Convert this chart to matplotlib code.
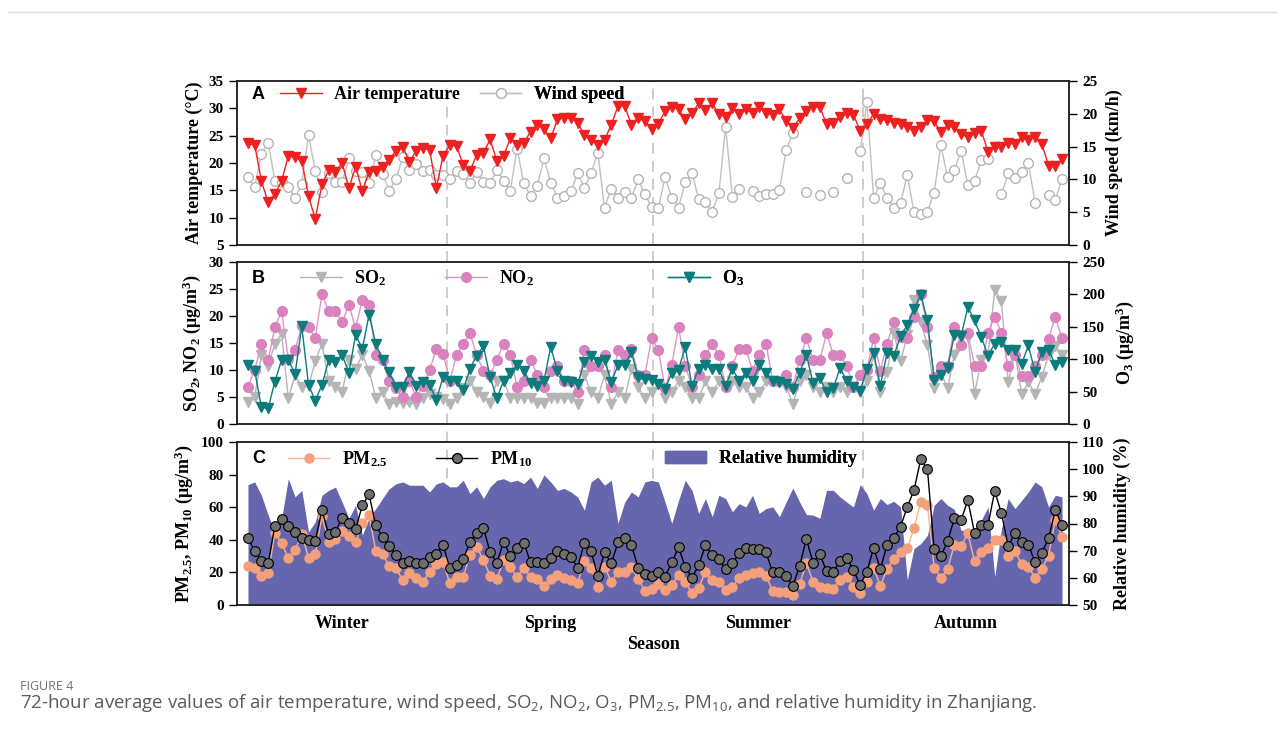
import numpy as np
import matplotlib
matplotlib.use("Agg")
import matplotlib.pyplot as plt
from matplotlib.lines import Line2D
from matplotlib.patches import Patch
import matplotlib.transforms as mtransforms

# Шрифты: жирный Times-подобный
plt.rcParams['font.family'] = ['Liberation Serif', 'DejaVu Serif']
plt.rcParams['font.weight'] = 'bold'
plt.rcParams['axes.labelweight'] = 'bold'
plt.rcParams['mathtext.fontset'] = 'custom'
plt.rcParams['mathtext.rm'] = 'Liberation Serif:bold'
plt.rcParams['mathtext.it'] = 'Liberation Serif:italic:bold'
plt.rcParams['mathtext.bf'] = 'Liberation Serif:bold'
plt.rcParams['mathtext.sf'] = 'Open Sans:weight=normal'

nan = np.nan

# Данные: 122 периода по 72 часа
temp = [23.6, 23.3, 16.7, 12.8, 14.3, 16.7, 21.3, 21.1, 20.4, 13.9, 9.8, 16.1, 18.7, 18.4, 20.0,
        15.4, 19.3, 14.9, 18.4, 18.5, 19.3, 20.6, 22.2, 23.0, 20.2, 22.2, 22.8, 22.4, 15.5, 21.3,
        23.3, 23.1, 19.6, 18.5, 21.5, 21.9, 24.3, 20.4, 21.3, 24.5, 23.3, 23.7, 25.7, 27.0, 26.2,
        24.5, 28.0, 28.3, 28.2, 27.4, 25.1, 24.2, 23.3, 24.2, 27.0, 30.4, 30.4, 27.0, 28.3, 27.6,
        26.3, 27.2,
        29.5, 30.3, 29.8, 28.0, 29.1, 30.9, 29.7, 30.9, 28.9, 28.5, 30.0, 28.9, 29.8, 29.1, 30.2,
        29.1, 28.8, 29.8, 27.7, 26.4, 28.2, 29.6, 30.3, 30.3, 27.1, 27.3, 28.4, 29.1, 28.8, 25.9,
        27.1,
        29.0, 28.0, 27.9, 27.4, 27.1, 26.6, 25.9, 26.5, 27.9, 27.7, 25.6, 27.0, 26.6, 25.3, 24.8,
        25.4, 25.9, 22.1, 23.0, 23.0, 23.7, 23.5, 24.8, 24.2, 24.8, 23.5, 19.5, 19.5, 20.7]

wind = [10.3, 8.9, 13.9, 15.6, 9.8, 9.6, 8.9, 7.2, 9.3, 16.8, 11.3, 8.1, 10.9, 9.6, 9.6,
        13.2, 11.3, 11.1, 9.4, 13.7, 10.8, 8.3, 10.0, 13.4, 11.4, 12.3, 11.3, 11.4, 10.7, 10.6,
        10.0,
        11.3, 10.8, 9.5, 11.1, 9.6, 9.4, 11.5, 9.8, 8.3, 14.7, 9.4, 7.5, 9.0, 13.2, 9.5,
        7.2, 7.4, 8.2, 10.9, 8.7, 10.9, 14.1, 5.7, 8.6, 7.2, 8.1, 7.2, 10.0, 7.7, 5.8, 5.7,
        10.3, 7.2, 5.7, 9.6, 11.0, 7.0, 6.5, 5.1, 7.9, 18.0, 7.3, 8.6, nan, 8.2, 7.4,
        7.8, 7.8, 8.4, 14.5, 17.1, nan, 8.1, nan, 7.6, nan, 8.1, nan, 10.2, nan, 14.3, 21.8,
        7.2, 9.4, 7.2, 5.7, 6.4, 10.7, 5.0, 4.8, 5.1, 8.0, 15.2, 10.3, 11.4, 14.4, 9.1,
        9.8, 12.9, 13.1, nan, 7.7, 10.9, 10.2, 11.1, 12.5, 6.4, nan, 7.6, 6.9, 10.0]

so2 = [4.0, 5.0, 12.8, 10.8, 14.9, 16.7, 4.8, 9.0, 6.9, 7.0, 11.6, 14.9, 8.0, 6.9, 5.9,
       11.9, 10.2, 12.8, 9.9, 4.8, 5.9, 3.7, 4.0, 3.8, 4.0, 3.7, 4.8, 5.5, 5.0, 4.7,
       3.7, 4.8, 6.7, 8.0, 5.9, 5.0, 3.8, 7.9, 8.0, 4.8, 4.8, 4.8, 4.8, 3.8, 3.8,
       4.8, 4.8, 4.8, 4.8, 3.7, 9.1, 5.9, 4.8, 9.0, 3.7, 5.9, 4.8, 10.2, 6.8, 4.8,
       5.9, 7.4,
       4.8, 5.9, 7.9, 6.9, 4.8, 4.8, 7.9, 5.9, 7.9, 6.9, 7.9, 6.9, 6.9, 4.8, 5.9,
       7.9, 7.9, 7.9, 6.9, 3.7, 8.0, 9.1, 6.9, 5.9, 6.9, 5.9, 6.9, 5.9, 6.9, 5.9, 7.9,
       12.7, 5.9, 9.7, 16.9, 11.6, 16.4, 22.9, 18.9, 14.7, 6.7, 9.4, 6.7, 12.8, 16.4, 16.1,
       5.6, 11.8, 12.7, 24.9, 22.7, 7.7, 13.3, 5.6, 7.7, 5.6, 8.7, 12.7, 14.5, 12.8]

no2 = [6.9, 10.0, 14.9, 11.8, 17.9, 20.9, 12.0, 13.7, 18.1, 17.9, 16.0, 24.0, 20.9, 20.9, 18.9,
       22.0, 17.8, 23.0, 22.0, 12.8, 11.8, 7.9, 6.7, 5.0, 8.0, 5.0, 7.0, 10.0, 13.9, 13.0,
       7.9, 12.8, 14.9, 16.8, 12.7, 9.9, 9.1, 11.9, 14.9, 12.8, 6.9, 8.0, 11.9, 9.1, 6.9,
       9.9, 10.8, 8.0, 8.0, 5.9, 13.7, 10.8, 10.8, 12.8, 6.9, 13.7, 12.8, 13.9, 9.1, 9.1,
       15.9, 13.7,
       6.6, 11.0, 17.9, 10.8, 6.9, 9.0, 12.8, 14.9, 12.8, 6.9, 10.8, 13.9, 13.9, 9.9, 12.8,
       14.9, 8.0, 8.0, 9.1, 6.9, 11.8, 15.9, 11.8, 11.8, 16.8, 12.8, 12.8, 10.8, 6.9, 9.0, 10.0,
       15.9, 9.9, 14.9, 18.9, 16.1, 15.9, 19.8, 24.0, 17.9, 8.7, 10.8, 10.8, 17.9, 14.7, 16.9,
       10.8, 10.8, 16.9, 19.8, 16.9, 10.8, 12.8, 8.8, 8.8, 10.8, 12.8, 15.8, 19.8, 15.9]

o3 = [90.3, 82.5, 25.8, 24.2, 65.5, 99.1, 99.1, 77.4, 150.6, 60.4, 36.1, 60.4, 99.1, 95.4, 106.8,
      79.0, 137.7, 116.1, 168.7, 123.8, 99.1, 79.9, 57.8, 57.8, 79.9, 59.0, 65.5, 60.4, 37.7, 72.2,
      67.1, 67.1, 52.7, 85.2, 105.7, 120.1, 72.2, 39.7, 67.1, 79.0, 91.3, 82.5, 62.9, 59.0, 67.1,
      118.6, 82.5, 67.1, 65.5, 61.8, 95.4, 105.7, 95.4, 99.1, 65.5, 90.3, 91.3, 110.8, 72.2, 69.6,
      68.0, 61.8,
      54.2, 79.0, 84.1, 118.6, 59.0, 85.2, 90.3, 85.2, 85.2, 59.0, 85.2, 67.1, 79.0, 67.1, 90.3,
      79.0, 67.1, 65.5, 61.8, 54.2, 79.0, 106.8, 62.9, 70.6, 49.0, 55.2, 86.2, 67.1, 56.7, 51.6,
      85.2,
      109.9, 59.0, 109.9, 105.7, 135.1, 153.2, 176.9, 199.6, 159.8, 68.6, 75.9, 86.2, 137.7, 135.7,
      180.4, 159.8, 134.2, 105.7, 123.8, 127.3, 113.6, 113.6, 92.8, 121.2, 80.0, 110.8, 114.7,
      91.3, 95.4]

pm25 = [23.9, 22.5, 17.9, 19.4, 43.9, 38.2, 28.6, 33.7, 43.5, 29.0, 31.2, 54.5, 38.8, 40.4, 45.3,
        42.2, 38.4, 50.1, 55.1, 33.1, 31.2, 23.9, 22.5, 15.3, 19.4, 16.3, 14.3, 20.4, 24.9, 26.3,
        13.3, 17.4, 17.4, 30.6, 35.7, 27.6, 17.9, 15.9, 27.6, 23.1, 17.0, 22.8, 17.4, 15.9, 11.8,
        15.9, 18.7, 16.7, 15.3, 13.3, 27.0, 22.8, 11.2, 23.5, 14.3, 20.4, 20.4, 23.5, 15.9, 8.6,
        9.8, 12.7,
        9.2, 12.3, 18.4, 14.3, 7.2, 10.6, 20.4, 15.3, 14.3, 9.2, 11.2, 16.3, 18.4, 19.4, 20.0,
        18.0, 8.6, 8.2, 8.2, 6.2, 12.9, 25.5, 14.3, 11.2, 10.2, 9.8, 15.3, 17.4, 11.2, 7.2, 14.3,
        22.5, 11.8, 22.0, 28.2, 32.3, 34.7, 47.0, 63.3, 61.2, 22.8, 16.7, 22.0, 37.1, 36.1, 43.9,
        26.9, 32.7, 34.7, 39.8, 39.8, 30.2, 33.1, 24.9, 23.5, 16.7, 22.0, 30.2, 52.1, 41.8]

pm10 = [41.2, 33.1, 26.9, 25.5, 48.6, 52.5, 48.6, 44.5, 41.2, 39.8, 39.2, 58.2, 43.3, 44.9, 53.5,
        50.1, 46.4, 61.2, 67.8, 49.0, 41.8, 36.1, 30.6, 25.5, 26.9, 25.5, 25.5, 29.6, 31.2, 37.1,
        22.8, 24.4, 28.2, 38.8, 44.3, 47.3, 32.3, 26.0, 38.8, 30.2, 35.1, 38.2, 26.2, 26.2, 25.5,
        28.6, 33.1, 31.2, 29.6, 23.0, 38.2, 33.1, 17.9, 32.3, 25.5, 38.4, 40.8, 36.7, 22.8, 18.9,
        17.9, 20.4,
        17.4, 26.2, 35.3, 23.5, 16.7, 24.4, 36.7, 30.6, 28.2, 22.0, 25.5, 31.6, 34.7, 34.3, 34.3,
        32.3, 20.0, 20.4, 17.9, 11.8, 24.0, 40.4, 26.0, 31.2, 20.8, 20.4, 26.9, 29.0, 21.4, 12.2,
        20.4,
        35.1, 22.0, 37.1, 41.2, 48.0, 60.2, 70.4, 89.4, 83.3, 34.1, 30.0, 39.2, 53.1, 52.1, 64.3,
        44.3, 49.0, 49.0, 70.0, 56.2, 36.1, 43.9, 38.4, 37.1, 26.2, 32.1, 40.8, 58.2, 49.0]

rh = [94.3, 95.3, 90.4, 83.1, 76.9, 81.9, 96.5, 89.8, 92.2, 76.9, 80.6, 90.4, 92.2, 93.4, 87.9,
      81.9, 86.7, 75.7, 81.9, 85.5, 89.2, 92.8, 94.6, 95.3, 94.1, 94.1, 94.1, 91.6, 94.6, 95.3,
      93.5, 93.5, 95.9, 91.0, 93.5, 89.2, 93.5, 95.9, 96.5, 95.3, 95.9, 94.7, 97.1, 92.9, 97.9,
      95.3, 92.2, 92.9, 91.6, 89.8, 84.9, 95.3, 97.1, 94.1, 95.9, 80.0, 87.9, 91.6, 89.8, 95.3,
      95.9, 95.3,
      87.9, 80.0, 88.5, 95.9, 92.2, 83.7, 89.2, 82.5, 90.4, 89.2, 84.3, 87.3, 86.1, 90.4, 83.7,
      85.5, 86.1, 82.5, 87.9, 93.1, 87.9, 83.3, 83.1, 81.9, 92.2, 92.2, 89.8, 87.9, 86.1, 94.3,
      91.0,
      84.9, 89.2, 87.0, 88.2, 86.1, 59.2, 70.8, 72.6, 75.7, 86.7, 89.2, 86.7, 85.2, 77.5, 77.5,
      78.2, 81.2, 86.1, 60.4, 78.0, 89.2, 85.5, 88.5, 91.6, 95.3, 93.5, 86.1, 90.4, 89.8]

seasons = ["Winter", "Spring", "Summer", "Autumn"]
season_bounds = [29.6, 60.2, 91.4]

x = np.arange(len(temp))

# Фигура и оси
W_PX, H_PX = 1284, 736
fig = plt.figure(figsize=(W_PX / 100, H_PX / 100), dpi=100)
left, right = 237, 1069


def box(top, bottom):
    return [left / W_PX, 1 - bottom / H_PX, (right - left) / W_PX, (bottom - top) / H_PX]


axA = fig.add_axes(box(81, 245))
axB = fig.add_axes(box(262, 424))
axC = fig.add_axes(box(442, 605))
axA2 = axA.twinx()
axB2 = axB.twinx()
axC2 = axC.twinx()

xlim = (-1.63, 122.04)
for ax in (axA, axB, axC):
    ax.set_facecolor("none")
    ax.set_xlim(*xlim)

# Панель A
axA2.plot(x, wind, "-o", color="#c0c0c0", mfc="white", mec="#b5b5b5", ms=7, lw=1, mew=1)
axA.plot(x, temp, "-v", color="#ee2020", ms=7, lw=1)
axA.set_zorder(axA2.get_zorder() + 1)
axA.set_ylim(5, 35)
axA.set_yticks(range(5, 36, 5))
axA2.set_ylim(0, 25)
axA2.set_yticks(range(0, 26, 5))
axA.set_ylabel("Air temperature (°C)", fontsize=13, labelpad=4)
axA2.set_ylabel("Wind speed (km/h)", fontsize=13, labelpad=6)

# Панель B
axB.plot(x, so2, "-v", color="#b5b5b5", ms=7, lw=1)
axB.plot(x, no2, "-o", color="#e094c8", mfc="#d982bf", mec="#d982bf", ms=7, lw=1)
axB2.plot(x, o3, "-v", color="#0b7b7b", ms=7, lw=1)
axB.set_ylim(0, 30)
axB.set_yticks(range(0, 31, 5))
axB2.set_ylim(0, 250)
axB2.set_yticks(range(0, 251, 50))
axB.set_ylabel("SO$_2$, NO$_2$ (μg/m$^3$)", fontsize=13, labelpad=4)
axB2.set_ylabel("O$_3$ (μg/m$^3$)", fontsize=13, labelpad=6)

# Панель C
axC2.fill_between(x, 50, rh, color="#6566ae", lw=0)
axC.plot(x, pm25, "-o", color="#f7b497", mfc="#f4a07a", mec="#f4a07a", ms=6.5, lw=1)
axC.plot(x, pm10, "-o", color="black", mfc="#6e6e6e", mec="black", ms=7, lw=1, mew=0.8)
axC.set_zorder(axC2.get_zorder() + 1)
axC.set_ylim(0, 100)
axC.set_yticks(range(0, 101, 20))
axC2.set_ylim(50, 110)
axC2.set_yticks(range(50, 111, 10))
axC.set_ylabel("PM$_{2.5}$, PM$_{10}$ (μg/m$^3$)", fontsize=13, labelpad=4)
axC2.set_ylabel("Relative humidity (%)", fontsize=13, labelpad=6)

for ax in (axA, axB, axC, axA2, axB2, axC2):
    ax.tick_params(axis="y", direction="out", length=6, width=1, labelsize=11)
    for lab in ax.get_yticklabels():
        lab.set_fontweight("bold")
    for s in ax.spines.values():
        s.set_linewidth(1.1)
        s.set_color("#222222")

for ax in (axA, axB, axA2, axB2, axC2):
    ax.set_xticks([])

# Подписи сезонов
edges = [xlim[0]] + season_bounds + [xlim[1]]
centers = [(edges[k] + edges[k + 1]) / 2 for k in range(4)]
axC.set_xticks(centers)
axC.set_xticklabels(seasons, fontsize=13, fontweight="bold")
axC.tick_params(axis="x", length=0, pad=7)
axC.set_xlabel("Season", fontsize=13, fontweight="bold", labelpad=3)

# Вертикальные пунктирные линии между сезонами
trans = mtransforms.blended_transform_factory(axC.transData, fig.transFigure)
for b in season_bounds:
    fig.add_artist(Line2D([b, b], [1 - 605 / H_PX, 1 - 81 / H_PX], transform=trans,
                          color="#c8c8c8", ls=(0, (6, 4)), lw=1.3, zorder=-1))


# Легенды
def add_entry(ax, handle, label, xfrac, yfrac):
    leg = ax.legend([handle], [label], loc="center left", bbox_to_anchor=(xfrac, yfrac),
                    frameon=False, prop={"size": 13, "weight": "bold"},
                    handlelength=2.3, handletextpad=0.7, borderaxespad=0, borderpad=0)
    ax.add_artist(leg)


add_entry(axA, Line2D([], [], color="#ee2020", marker="v", ms=7, lw=1), "Air temperature", 0.052, 0.915)
add_entry(axA, Line2D([], [], color="#c0c0c0", marker="o", mfc="white", mec="#b5b5b5", ms=7, lw=1),
          "Wind speed", 0.292, 0.915)
add_entry(axB2, Line2D([], [], color="#b5b5b5", marker="v", ms=7, lw=1), "SO$_2$", 0.076, 0.9)
add_entry(axB2, Line2D([], [], color="#e094c8", marker="o", mfc="#d982bf", mec="#d982bf", ms=7, lw=1),
          "NO$_2$", 0.25, 0.9)
add_entry(axB2, Line2D([], [], color="#0b7b7b", marker="v", ms=7, lw=1), "O$_3$", 0.518, 0.9)
add_entry(axC, Line2D([], [], color="#f7b497", marker="o", mfc="#f4a07a", mec="#f4a07a", ms=6.5, lw=1),
          "PM$_{2.5}$", 0.061, 0.896)
add_entry(axC, Line2D([], [], color="black", marker="o", mfc="#6e6e6e", mec="black", ms=7, lw=1),
          "PM$_{10}$", 0.239, 0.896)
add_entry(axC, Patch(color="#6566ae"), "Relative humidity", 0.514, 0.896)

for ax, letter, yf in ((axA, "A", 0.915), (axB2, "B", 0.9), (axC, "C", 0.9)):
    ax.text(0.018, yf, letter, transform=ax.transAxes, fontfamily="Liberation Sans",
            fontweight="bold", fontsize=13, va="center", ha="left")

# Подпись рисунка
fig.add_artist(Line2D([8 / W_PX, 1276 / W_PX], [1 - 12 / H_PX] * 2, color="#dddddd", lw=1))
fig.text(20 / W_PX, 1 - 686 / H_PX, "FIGURE 4", family=["Open Sans", "DejaVu Sans"],
         fontweight="normal", fontsize=9, color="#707070", va="center")
fig.text(20 / W_PX, 1 - 703 / H_PX,
         "72-hour average values of air temperature, wind speed, SO$\\mathsf{_2}$, NO$\\mathsf{_2}$, "
         "O$\\mathsf{_3}$, PM$\\mathsf{_{2.5}}$, PM$\\mathsf{_{10}}$, and relative humidity in Zhanjiang.",
         family=["Open Sans", "DejaVu Sans"], fontweight="normal", fontsize=13.4,
         color="#5a5a5a", va="center")

fig.savefig("out.png", dpi=100)
